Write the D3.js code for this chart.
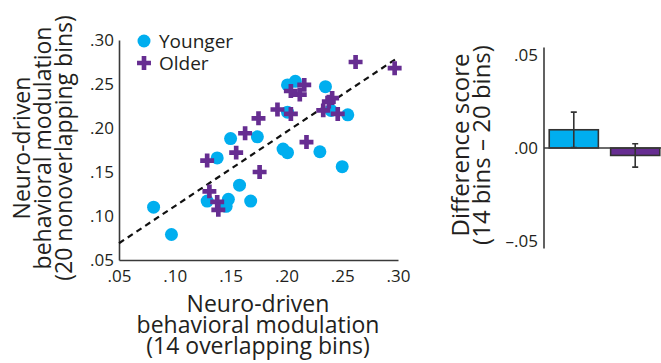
<html>
<head>
  <script src="https://d3js.org/d3.v7.min.js"></script>
  <style>
    body { margin: 0; background: #fff; }
    text { font-family: "Open Sans", sans-serif; fill: #231f20; }
    .domain { stroke: #3a3a3a; stroke-width: 1.6; }
  </style>
</head>
<body>
  <script>
    // scatter: younger (circles) and older (crosses)
    var youngerX = [0.081, 0.097, 0.138, 0.150, 0.174, 0.158, 0.129, 0.148, 0.146, 0.168,
                    0.201, 0.208, 0.235, 0.240, 0.255, 0.201, 0.197, 0.201, 0.230, 0.250];
    var youngerY = [0.110, 0.079, 0.166, 0.188, 0.190, 0.135, 0.117, 0.119, 0.111, 0.117,
                    0.249, 0.253, 0.247, 0.220, 0.215, 0.218, 0.176, 0.172, 0.173, 0.156];
    var olderX = [0.175, 0.163, 0.129, 0.155, 0.176, 0.131, 0.138, 0.139, 0.262, 0.297,
                  0.216, 0.204, 0.212, 0.241, 0.238, 0.233, 0.246, 0.192, 0.204, 0.218];
    var olderY = [0.211, 0.194, 0.163, 0.172, 0.150, 0.128, 0.116, 0.107, 0.275, 0.268,
                  0.249, 0.242, 0.238, 0.234, 0.230, 0.220, 0.216, 0.221, 0.216, 0.184];
    var fitX = [0.05, 0.30];
    var fitY = [0.069, 0.280];
    var scatterTicks = [0.05, 0.10, 0.15, 0.20, 0.25, 0.30];

    // difference score bars
    var groups = ["Younger", "Older"];
    var diffMean = [0.0098, -0.0040];
    var diffErr = [0.0095, 0.0063];
    var diffTicks = [0.05, 0.00, -0.05];

    var blue = "#00aeef", purple = "#662d91";
    var fmt = function(d){ return (d < 0 ? "\u2013" : "") + d3.format(".2f")(Math.abs(d)).replace(/^0/, ""); };

    var svg = d3.select("body").append("svg")
      .attr("width", 661)
      .attr("height", 363);

    var x = d3.scaleLinear().domain([0.05, 0.30]).range([119, 398]);
    var y = d3.scaleLinear().domain([0.05, 0.30]).range([260, 40]);

    var xAxis = svg.append("g")
      .attr("transform", "translate(0,260)")
      .call(d3.axisBottom(x).tickValues(scatterTicks).tickFormat(fmt).tickSize(0).tickPadding(10));
    var yAxis = svg.append("g")
      .attr("transform", "translate(119,0)")
      .call(d3.axisLeft(y).tickValues(scatterTicks).tickFormat(fmt).tickSize(0).tickPadding(5));
    svg.selectAll(".tick text").style("font-size", "17px").attr("fill", "#231f20");

    // fit line
    svg.append("path")
      .datum(d3.zip(fitX, fitY))
      .attr("d", d3.line().x(function(d){ return x(d[0]); }).y(function(d){ return y(d[1]); }))
      .attr("fill", "none")
      .attr("stroke", "#111")
      .attr("stroke-width", 2.2)
      .attr("stroke-dasharray", "6 4.5");

    svg.append("g").selectAll("circle")
      .data(d3.zip(youngerX, youngerY))
      .enter().append("circle")
      .attr("cx", function(d){ return x(d[0]); })
      .attr("cy", function(d){ return y(d[1]); })
      .attr("r", 6.5)
      .attr("fill", blue);

    var cross = d3.symbol().type(d3.symbolCross).size(108);
    svg.append("g").selectAll("path")
      .data(d3.zip(olderX, olderY))
      .enter().append("path")
      .attr("d", cross)
      .attr("transform", function(d){ return "translate(" + x(d[0]) + "," + y(d[1]) + ")"; })
      .attr("fill", purple);

    // legend
    svg.append("circle").attr("cx", 144).attr("cy", 41).attr("r", 6.5).attr("fill", blue);
    svg.append("path").attr("d", cross).attr("transform", "translate(144,63)").attr("fill", purple);
    svg.append("text").attr("x", 159).attr("y", 47.5).style("font-size", "19px").text("Younger");
    svg.append("text").attr("x", 159).attr("y", 70).style("font-size", "19px").text("Older");

    // axis titles
    var xTitle = ["Neuro-driven", "behavioral modulation", "(14 overlapping bins)"];
    svg.append("g").selectAll("text")
      .data(xTitle)
      .enter().append("text")
      .attr("x", 258)
      .attr("y", function(d, i){ return 312 + i * 21; })
      .attr("text-anchor", "middle")
      .style("font-size", "23px")
      .text(function(d){ return d; });

    var yTitle = ["Neuro-driven", "behavioral modulation", "(20 nonoverlapping bins)"];
    svg.append("g").selectAll("text")
      .data(yTitle)
      .enter().append("text")
      .attr("transform", function(d, i){ return "translate(" + (30 + i * 21) + ",148) rotate(-90)"; })
      .attr("text-anchor", "middle")
      .style("font-size", "23px")
      .text(function(d){ return d; });

    // bar chart
    var by = d3.scaleLinear().domain([-0.05, 0.05]).range([241, 55]);
    var bx = d3.scaleBand().domain(groups).range([548, 661]).paddingInner(0.2).paddingOuter(0.02);

    var bAxis = svg.append("g")
      .attr("transform", "translate(544,0)")
      .call(d3.axisLeft(by).tickValues(diffTicks).tickFormat(fmt).tickSize(0).tickPadding(6));
    bAxis.select(".domain").attr("d", "M0," + by(-0.054) + "V" + by(0.054));
    bAxis.selectAll(".tick text").style("font-size", "17px").attr("fill", "#231f20");

    var bars = svg.append("g").selectAll("g")
      .data(groups)
      .enter().append("g");

    bars.append("rect")
      .attr("x", function(d){ return bx(d); })
      .attr("width", bx.bandwidth())
      .attr("y", function(d, i){ return by(Math.max(0, diffMean[i])); })
      .attr("height", function(d, i){ return Math.abs(by(diffMean[i]) - by(0)); })
      .attr("fill", function(d, i){ return i === 0 ? blue : purple; })
      .attr("stroke", "#333")
      .attr("stroke-width", 1.6);

    svg.append("line")
      .attr("x1", 544).attr("x2", 661)
      .attr("y1", by(0)).attr("y2", by(0))
      .attr("stroke", "#3a3a3a")
      .attr("stroke-width", 1.6);

    bars.append("path")
      .attr("d", function(d, i){
        var cx = bx(d) + bx.bandwidth() / 2,
            t = by(diffMean[i] + diffErr[i]),
            b = by(diffMean[i] - diffErr[i]);
        return "M" + cx + "," + t + "V" + b + "M" + (cx - 3) + "," + t + "H" + (cx + 3) + "M" + (cx - 3) + "," + b + "H" + (cx + 3);
      })
      .attr("fill", "none")
      .attr("stroke", "#333")
      .attr("stroke-width", 1.6);

    var bTitle = ["Difference score", "(14 bins \u2013 20 bins)"];
    svg.append("g").selectAll("text")
      .data(bTitle)
      .enter().append("text")
      .attr("transform", function(d, i){ return "translate(" + (469 + i * 21) + ",145) rotate(-90)"; })
      .attr("text-anchor", "middle")
      .style("font-size", "24px")
      .text(function(d){ return d; });
  </script>
</body>
</html>
